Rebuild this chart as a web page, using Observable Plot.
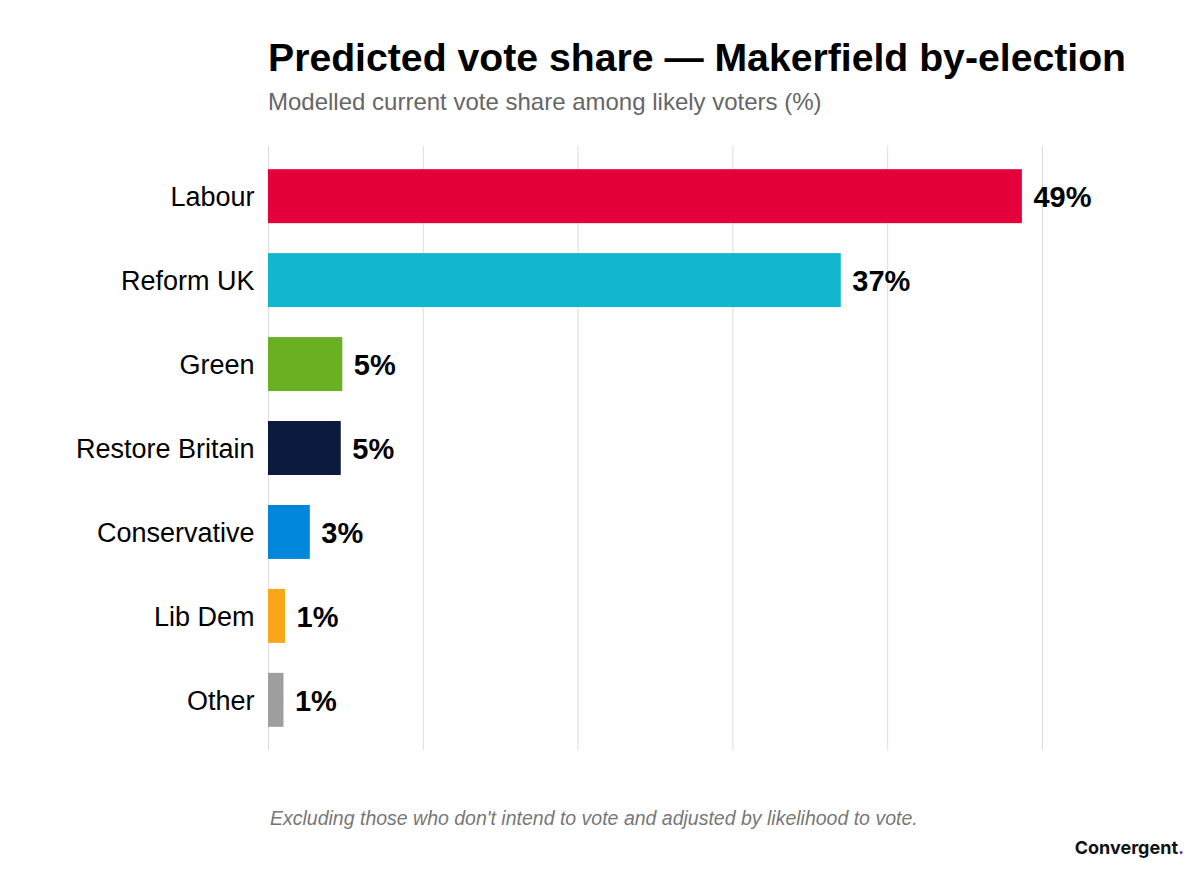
<!DOCTYPE html>
<html><head><meta charset="utf-8">
<script src="https://cdn.jsdelivr.net/npm/d3@7"></script>
<script src="https://cdn.jsdelivr.net/npm/@observablehq/plot@0.6"></script>
<style>
body{margin:0;background:#fff;width:1200px;height:873px;position:relative;overflow:hidden;font-family:"Liberation Sans",Arial,sans-serif;}
.t{position:absolute;white-space:nowrap;margin:0;}
#title{left:268px;top:38px;font-size:39.2px;line-height:39px;font-weight:bold;color:#000;}
#subtitle{left:268px;top:90px;font-size:24px;line-height:24px;color:#666;}
#chart{position:absolute;left:0;top:140px;}
#note{left:270px;top:809px;font-size:19.5px;line-height:19.5px;font-style:italic;color:#777;}
#brand{right:16px;top:839px;font-family:Inter,"Liberation Sans",sans-serif;font-weight:700;font-size:18px;line-height:18px;color:#111;}
#brand span{color:#7a2cf0;}
</style>
</head><body>
<div class="t" id="title">Predicted vote share — Makerfield by-election</div>
<div class="t" id="subtitle">Modelled current vote share among likely voters (%)</div>
<div id="chart"></div>
<div class="t" id="note">Excluding those who don't intend to vote and adjusted by likelihood to vote.</div>
<div class="t" id="brand">Convergent<span>.</span></div>
<script>
const parties = ["Labour", "Reform UK", "Green", "Restore Britain", "Conservative", "Lib Dem", "Other"];
const shares = [48.7, 37.0, 4.8, 4.7, 2.7, 1.1, 1.0];
const gridTicks = [0, 10, 20, 30, 40, 50];

const data = parties.map((p, i) => ({party: p, share: shares[i]}));

const chart = Plot.plot({
  width: 1200,
  height: 620,
  marginTop: 6,
  marginBottom: 10,
  marginLeft: 268,
  marginRight: 158,
  style: {fontFamily: '"Liberation Sans", Arial, sans-serif', background: "transparent"},
  x: {domain: [0, 50], axis: null},
  y: {domain: parties, paddingInner: 0.357, paddingOuter: 0.276, round: false, label: null},
  color: {
    domain: parties,
    range: ["#E4003B", "#12B6CF", "#6AB023", "#0C1A40", "#0087DC", "#FAA61A", "#9E9E9E"]
  },
  marks: [
    Plot.gridX(gridTicks, {stroke: "#dcdcdc", strokeOpacity: 1, strokeWidth: 1}),
    Plot.barX(data, {y: "party", x: "share", fill: "party"}),
    Plot.text(data, {
      y: "party", x: "share",
      text: d => Math.round(d.share) + "%",
      textAnchor: "start", dx: 11, dy: 1,
      fontSize: 29, fontWeight: "bold", fill: "#000"
    }),
    Plot.axisY({tickSize: 0, tickPadding: 14, dy: 1, fontSize: 27, label: null, fill: "#000"})
  ]
});
document.getElementById("chart").appendChild(chart);
</script>
</body></html>
